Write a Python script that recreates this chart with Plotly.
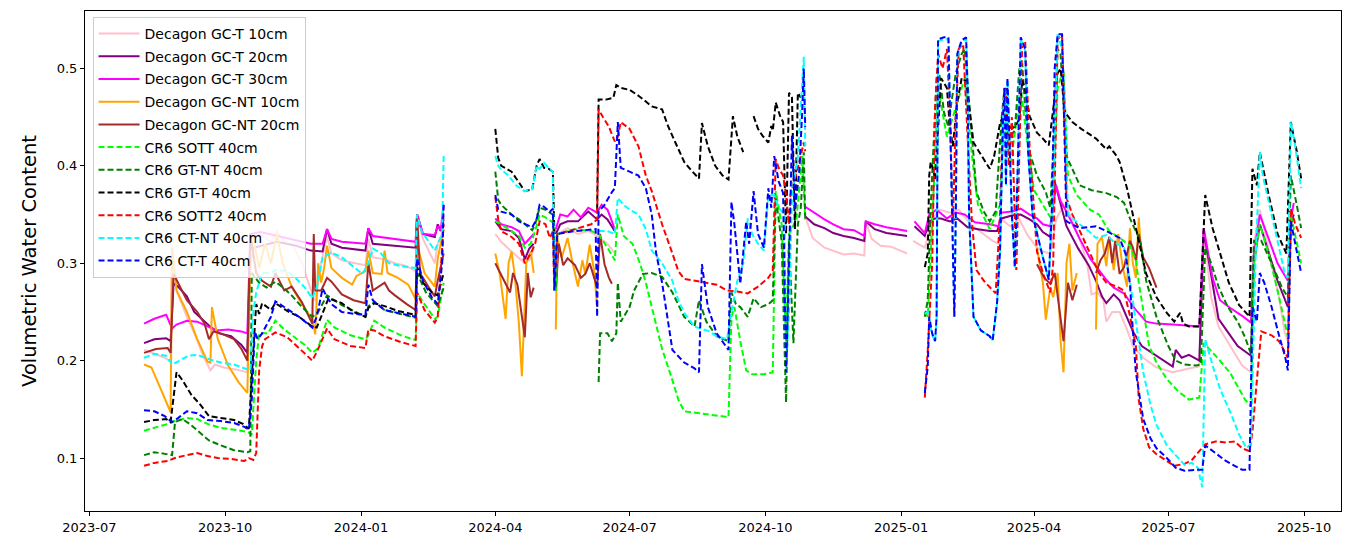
import plotly.graph_objects as go

# ---------------- data (date, volumetric water content); None = gap ----------------
gct_10 = [
    ("2023-08-07", 0.211), ("2023-08-14", 0.207), ("2023-08-21", 0.203), ("2023-08-25", 0.199),
    ("2023-08-26", 0.316), ("2023-08-29", 0.272), ("2023-09-05", 0.245), ("2023-09-11", 0.225),
    ("2023-09-16", 0.205), ("2023-09-21", 0.190), ("2023-09-24", 0.196), ("2023-09-30", 0.193),
    ("2023-10-08", 0.191), ("2023-10-16", 0.188),
    ("2023-10-18", 0.325), ("2023-10-24", 0.330), ("2023-11-01", 0.322), ("2023-11-05", 0.333),
    ("2023-11-10", 0.322), ("2023-11-16", 0.318), ("2023-11-22", 0.300), ("2023-11-29", 0.268),
    ("2023-12-01", 0.262), ("2023-12-05", 0.300), ("2023-12-09", 0.328), ("2023-12-12", 0.310),
    ("2023-12-19", 0.303), ("2023-12-28", 0.300), ("2024-01-04", 0.298), ("2024-01-06", 0.325),
    ("2024-01-09", 0.306), ("2024-01-17", 0.304), ("2024-01-24", 0.300), ("2024-02-01", 0.297),
    ("2024-02-07", 0.292), ("2024-02-08", 0.350), ("2024-02-12", 0.325), ("2024-02-20", 0.300),
    ("2024-02-22", 0.320), ("2024-02-26", 0.335), ("2024-03-15", None),
    ("2024-04-01", 0.330), ("2024-04-05", 0.322), ("2024-04-12", 0.312), ("2024-04-21", 0.300),
    ("2024-04-25", 0.305), ("2024-04-27", 0.315), ("2024-05-05", None),
    ("2024-05-12", 0.305), ("2024-05-13", 0.330), ("2024-05-20", 0.336), ("2024-05-27", 0.330),
    ("2024-06-03", 0.333), ("2024-06-09", 0.328), ("2024-06-16", 0.320), ("2024-06-21", 0.310),
    ("2024-08-01", None),
    ("2024-10-28", 0.348), ("2024-11-02", 0.326), ("2024-11-10", 0.316), ("2024-11-16", 0.313),
    ("2024-11-23", 0.309), ("2024-11-30", 0.310), ("2024-12-07", 0.308), ("2024-12-08", 0.343),
    ("2024-12-12", 0.325), ("2024-12-18", 0.318), ("2024-12-25", 0.317), ("2025-01-05", 0.310),
    ("2025-01-07", None),
    ("2025-01-09", 0.323), ("2025-01-17", 0.316), ("2025-01-22", 0.345), ("2025-01-27", 0.355),
    ("2025-02-03", 0.352), ("2025-02-09", 0.355), ("2025-02-17", 0.340), ("2025-02-24", 0.332),
    ("2025-03-04", 0.323), ("2025-03-08", 0.320), ("2025-03-10", 0.345), ("2025-03-16", 0.338),
    ("2025-03-22", 0.345), ("2025-03-28", 0.328), ("2025-04-03", 0.316), ("2025-04-07", 0.312),
    ("2025-04-12", 0.310), ("2025-04-16", 0.345), ("2025-04-21", 0.360), ("2025-04-24", 0.355),
    ("2025-04-28", 0.340), ("2025-05-03", 0.320), ("2025-05-07", 0.300), ("2025-05-10", 0.268),
    ("2025-05-14", 0.270), ("2025-05-18", 0.262), ("2025-05-20", 0.240), ("2025-05-24", 0.250),
    ("2025-05-29", 0.250), ("2025-06-03", 0.232), ("2025-06-07", 0.215), ("2025-06-14", 0.203),
    ("2025-06-23", 0.193), ("2025-07-04", 0.188), ("2025-07-15", 0.192), ("2025-07-22", 0.194),
    ("2025-07-25", 0.334), ("2025-07-30", 0.265), ("2025-08-04", 0.235), ("2025-08-12", 0.215),
    ("2025-08-20", 0.195), ("2025-08-26", 0.188), ("2025-08-28", 0.320), ("2025-09-01", 0.355),
    ("2025-09-09", 0.300), ("2025-09-14", 0.265), ("2025-09-18", 0.228), ("2025-09-20", 0.220),
    ("2025-09-22", 0.330), ("2025-09-23", 0.345),
]

gct_20 = [
    ("2023-08-07", 0.218), ("2023-08-14", 0.222), ("2023-08-22", 0.223), ("2023-08-25", 0.220),
    ("2023-08-27", 0.279), ("2023-08-30", 0.276), ("2023-09-05", 0.266), ("2023-09-10", 0.250),
    ("2023-09-15", 0.243), ("2023-09-20", 0.236), ("2023-09-27", 0.228), ("2023-10-05", 0.225),
    ("2023-10-12", 0.216), ("2023-10-16", 0.208),
    ("2023-10-18", 0.315), ("2023-10-25", 0.318), ("2023-11-05", 0.322), ("2023-11-18", 0.318),
    ("2023-11-28", 0.313), ("2023-12-06", 0.312), ("2023-12-09", 0.335), ("2023-12-12", 0.320),
    ("2023-12-19", 0.316), ("2024-01-04", 0.313), ("2024-01-06", 0.336), ("2024-01-09", 0.320),
    ("2024-01-17", 0.319), ("2024-01-24", 0.318), ("2024-02-07", 0.316), ("2024-02-08", 0.350),
    ("2024-02-12", 0.330), ("2024-02-20", 0.327), ("2024-02-22", 0.340), ("2024-02-24", 0.333),
    ("2024-02-26", 0.345), ("2024-03-15", None),
    ("2024-04-01", 0.343), ("2024-04-05", 0.335), ("2024-04-12", 0.333), ("2024-04-17", 0.326),
    ("2024-04-21", 0.304), ("2024-04-24", 0.315), ("2024-04-27", 0.320), ("2024-05-05", None),
    ("2024-05-12", 0.330), ("2024-05-15", 0.340), ("2024-05-20", 0.343), ("2024-05-27", 0.343),
    ("2024-06-03", 0.353), ("2024-06-09", 0.345), ("2024-06-12", 0.350), ("2024-06-16", 0.345),
    ("2024-06-21", 0.333), ("2024-08-01", None),
    ("2024-10-28", 0.348), ("2024-11-03", 0.340), ("2024-11-10", 0.336), ("2024-11-16", 0.331),
    ("2024-11-23", 0.328), ("2024-11-30", 0.326), ("2024-12-07", 0.323), ("2024-12-08", 0.343),
    ("2024-12-14", 0.335), ("2024-12-22", 0.331), ("2025-01-05", 0.328), ("2025-01-07", None),
    ("2025-01-10", 0.338), ("2025-01-17", 0.328), ("2025-01-20", 0.343), ("2025-01-24", 0.346),
    ("2025-01-28", 0.346), ("2025-02-03", 0.343), ("2025-02-08", 0.346), ("2025-02-15", 0.337),
    ("2025-02-22", 0.335), ("2025-03-02", 0.333), ("2025-03-07", 0.333), ("2025-03-10", 0.346),
    ("2025-03-17", 0.349), ("2025-03-23", 0.350), ("2025-03-29", 0.345), ("2025-04-03", 0.340),
    ("2025-04-07", 0.332), ("2025-04-12", 0.327), ("2025-04-15", 0.384), ("2025-04-19", 0.362),
    ("2025-04-23", 0.338), ("2025-05-01", 0.315), ("2025-05-08", 0.298), ("2025-05-13", 0.282),
    ("2025-05-17", 0.266), ("2025-05-20", 0.259), ("2025-05-25", 0.268), ("2025-05-29", 0.262),
    ("2025-06-03", 0.245), ("2025-06-07", 0.230), ("2025-06-13", 0.215), ("2025-06-23", 0.205),
    ("2025-07-04", 0.194), ("2025-07-06", 0.211), ("2025-07-10", 0.203), ("2025-07-15", 0.206),
    ("2025-07-22", 0.200), ("2025-07-25", 0.333), ("2025-07-30", 0.290), ("2025-08-04", 0.243),
    ("2025-08-10", 0.230), ("2025-08-17", 0.215), ("2025-08-26", 0.205), ("2025-08-28", 0.300),
    ("2025-09-01", 0.340), ("2025-09-07", 0.310), ("2025-09-13", 0.282), ("2025-09-20", 0.255),
    ("2025-09-22", 0.340), ("2025-09-24", 0.350),
]

gct_30 = [
    ("2023-08-07", 0.238), ("2023-08-14", 0.243), ("2023-08-22", 0.247), ("2023-08-26", 0.233),
    ("2023-08-29", 0.237), ("2023-09-05", 0.241), ("2023-09-12", 0.240), ("2023-09-18", 0.236),
    ("2023-09-25", 0.231), ("2023-10-03", 0.232), ("2023-10-12", 0.230), ("2023-10-16", 0.228),
    ("2023-10-18", 0.330), ("2023-10-25", 0.332), ("2023-11-08", 0.327), ("2023-11-20", 0.323),
    ("2023-11-28", 0.320), ("2023-12-06", 0.320), ("2023-12-09", 0.335), ("2023-12-12", 0.325),
    ("2023-12-19", 0.322), ("2024-01-04", 0.320), ("2024-01-06", 0.336), ("2024-01-09", 0.328),
    ("2024-01-24", 0.325), ("2024-02-07", 0.322), ("2024-02-08", 0.350), ("2024-02-12", 0.330),
    ("2024-02-20", 0.329), ("2024-02-22", 0.338), ("2024-02-24", 0.334), ("2024-02-26", 0.360),
    ("2024-03-15", None),
    ("2024-04-01", 0.346), ("2024-04-05", 0.340), ("2024-04-12", 0.337), ("2024-04-17", 0.333),
    ("2024-04-21", 0.320), ("2024-04-24", 0.325), ("2024-04-27", 0.330), ("2024-05-05", None),
    ("2024-05-12", 0.335), ("2024-05-15", 0.350), ("2024-05-20", 0.348), ("2024-05-24", 0.355),
    ("2024-05-29", 0.347), ("2024-06-03", 0.357), ("2024-06-09", 0.352), ("2024-06-12", 0.360),
    ("2024-06-16", 0.355), ("2024-06-21", 0.335), ("2024-08-01", None),
    ("2024-10-28", 0.358), ("2024-11-03", 0.352), ("2024-11-10", 0.345), ("2024-11-16", 0.340),
    ("2024-11-23", 0.335), ("2024-11-30", 0.334), ("2024-12-07", 0.328), ("2024-12-08", 0.343),
    ("2024-12-14", 0.340), ("2024-12-22", 0.337), ("2025-01-05", 0.333), ("2025-01-07", None),
    ("2025-01-10", 0.343), ("2025-01-17", 0.331), ("2025-01-20", 0.350), ("2025-01-25", 0.355),
    ("2025-02-01", 0.346), ("2025-02-07", 0.352), ("2025-02-13", 0.350), ("2025-02-20", 0.342),
    ("2025-03-02", 0.340), ("2025-03-08", 0.338), ("2025-03-10", 0.352), ("2025-03-17", 0.353),
    ("2025-03-23", 0.356), ("2025-03-29", 0.350), ("2025-04-03", 0.346), ("2025-04-07", 0.340),
    ("2025-04-12", 0.338), ("2025-04-16", 0.380), ("2025-04-19", 0.364), ("2025-04-24", 0.350),
    ("2025-05-02", 0.325), ("2025-05-09", 0.305), ("2025-05-20", 0.283), ("2025-05-25", 0.275),
    ("2025-06-01", 0.269), ("2025-06-09", 0.252), ("2025-06-16", 0.240), ("2025-06-23", 0.238),
    ("2025-07-04", 0.237), ("2025-07-14", 0.236), ("2025-07-22", 0.235), ("2025-07-25", 0.336),
    ("2025-07-31", 0.285), ("2025-08-05", 0.262), ("2025-08-12", 0.254), ("2025-08-20", 0.246),
    ("2025-08-26", 0.239), ("2025-08-28", 0.310), ("2025-09-01", 0.350), ("2025-09-07", 0.325),
    ("2025-09-13", 0.300), ("2025-09-20", 0.282), ("2025-09-22", 0.345), ("2025-09-24", 0.362),
]

gcnt_10 = [
    ("2023-08-07", 0.196), ("2023-08-12", 0.193), ("2023-08-18", 0.172), ("2023-08-25", 0.147),
    ("2023-08-26", 0.316), ("2023-08-29", 0.272), ("2023-09-05", 0.250), ("2023-09-12", 0.222),
    ("2023-09-19", 0.199), ("2023-09-21", 0.198), ("2023-09-22", 0.255), ("2023-09-26", 0.222),
    ("2023-10-03", 0.195), ("2023-10-10", 0.178), ("2023-10-16", 0.167),
    ("2023-10-18", 0.300), ("2023-10-21", 0.318), ("2023-10-24", 0.295), ("2023-10-28", 0.320),
    ("2023-11-01", 0.300), ("2023-11-05", 0.330), ("2023-11-09", 0.300), ("2023-11-15", 0.276),
    ("2023-11-22", 0.258), ("2023-11-29", 0.242), ("2023-12-01", 0.227), ("2023-12-03", 0.300),
    ("2023-12-05", 0.280), ("2023-12-07", 0.295), ("2023-12-09", 0.318), ("2023-12-12", 0.295),
    ("2023-12-19", 0.285), ("2023-12-26", 0.278), ("2023-12-29", 0.287), ("2024-01-04", 0.292),
    ("2024-01-06", 0.313), ("2024-01-09", 0.290), ("2024-01-15", 0.289), ("2024-01-17", 0.313),
    ("2024-01-19", 0.290), ("2024-01-26", 0.285), ("2024-02-02", 0.278), ("2024-02-07", 0.263),
    ("2024-02-08", 0.320), ("2024-02-13", 0.290), ("2024-02-20", 0.276), ("2024-02-22", 0.305),
    ("2024-02-26", 0.335), ("2024-03-15", None),
    ("2024-04-01", 0.310), ("2024-04-04", 0.289), ("2024-04-08", 0.243), ("2024-04-10", 0.300),
    ("2024-04-12", 0.312), ("2024-04-14", 0.290), ("2024-04-17", 0.238), ("2024-04-19", 0.184),
    ("2024-04-22", 0.300), ("2024-04-25", 0.312), ("2024-04-27", 0.290), ("2024-05-05", None),
    ("2024-05-12", 0.232), ("2024-05-13", 0.326), ("2024-05-16", 0.306), ("2024-05-20", 0.326),
    ("2024-05-23", 0.303), ("2024-05-27", 0.276), ("2024-05-30", 0.303), ("2024-06-01", 0.289),
    ("2024-06-04", 0.319), ("2024-06-07", 0.292), ("2024-06-09", 0.255), ("2024-08-01", None),
    ("2025-04-03", 0.316), ("2025-04-07", 0.280), ("2025-04-09", 0.242), ("2025-04-12", 0.275),
    ("2025-04-14", 0.265), ("2025-04-17", 0.290), ("2025-04-19", 0.220), ("2025-04-21", 0.188),
    ("2025-04-23", 0.300), ("2025-04-25", 0.320), ("2025-04-27", 0.272), ("2025-04-30", 0.290),
    ("2025-05-06", None),
    ("2025-05-13", 0.232), ("2025-05-14", 0.320), ("2025-05-17", 0.327), ("2025-05-20", 0.297),
    ("2025-05-22", 0.327), ("2025-05-25", 0.293), ("2025-05-28", 0.330), ("2025-05-31", 0.297),
    ("2025-06-03", 0.276), ("2025-06-05", 0.336), ("2025-06-07", 0.300), ("2025-06-09", 0.285),
    ("2025-06-11", 0.347), ("2025-06-12", 0.323),
]

gcnt_20 = [
    ("2023-08-07", 0.208), ("2023-08-15", 0.212), ("2023-08-23", 0.213), ("2023-08-25", 0.208),
    ("2023-08-27", 0.289), ("2023-08-30", 0.280), ("2023-09-05", 0.262), ("2023-09-12", 0.250),
    ("2023-09-17", 0.238), ("2023-09-20", 0.222), ("2023-09-23", 0.230), ("2023-09-28", 0.228),
    ("2023-10-07", 0.222), ("2023-10-12", 0.212), ("2023-10-16", 0.200),
    ("2023-10-18", 0.330), ("2023-10-22", 0.290), ("2023-10-26", 0.282), ("2023-11-01", 0.276),
    ("2023-11-04", 0.290), ("2023-11-10", 0.272), ("2023-11-15", 0.276), ("2023-11-22", 0.260),
    ("2023-11-29", 0.238), ("2023-11-30", 0.330), ("2023-12-01", 0.272), ("2023-12-05", 0.272),
    ("2023-12-09", 0.285), ("2023-12-12", 0.281), ("2023-12-19", 0.268), ("2023-12-27", 0.262),
    ("2024-01-04", 0.259), ("2024-01-06", 0.300), ("2024-01-09", 0.272), ("2024-01-17", 0.280),
    ("2024-01-20", 0.272), ("2024-01-24", 0.267), ("2024-02-01", 0.258), ("2024-02-07", 0.252),
    ("2024-02-08", 0.350), ("2024-02-10", 0.290), ("2024-02-16", 0.275), ("2024-02-20", 0.266),
    ("2024-02-22", 0.282), ("2024-02-26", 0.310), ("2024-03-15", None),
    ("2024-04-01", 0.300), ("2024-04-06", 0.285), ("2024-04-11", 0.270), ("2024-04-13", 0.290),
    ("2024-04-16", 0.278), ("2024-04-21", 0.224), ("2024-04-23", 0.290), ("2024-04-25", 0.265),
    ("2024-04-27", 0.275), ("2024-05-05", None),
    ("2024-05-12", 0.272), ("2024-05-14", 0.320), ("2024-05-17", 0.298), ("2024-05-20", 0.305),
    ("2024-05-25", 0.298), ("2024-05-29", 0.285), ("2024-06-01", 0.289), ("2024-06-04", 0.300),
    ("2024-06-07", 0.285), ("2024-06-09", 0.275), ("2024-06-11", 0.330), ("2024-06-14", 0.299),
    ("2024-06-17", 0.285), ("2024-06-19", 0.279), ("2024-08-01", None),
    ("2025-04-03", 0.299), ("2025-04-08", 0.285), ("2025-04-12", 0.279), ("2025-04-15", 0.290),
    ("2025-04-21", 0.220), ("2025-04-24", 0.280), ("2025-04-27", 0.262), ("2025-04-30", 0.278),
    ("2025-05-06", None),
    ("2025-05-13", 0.290), ("2025-05-16", 0.303), ("2025-05-19", 0.310), ("2025-05-22", 0.327),
    ("2025-05-24", 0.300), ("2025-05-26", 0.323), ("2025-05-29", 0.289), ("2025-06-01", 0.296),
    ("2025-06-05", 0.323), ("2025-06-07", 0.316), ("2025-06-09", 0.303), ("2025-06-11", 0.330),
    ("2025-06-14", 0.306), ("2025-06-18", 0.295), ("2025-06-23", 0.275),
]

sott = [
    ("2023-08-07", 0.128), ("2023-08-14", 0.131), ("2023-08-23", 0.135), ("2023-08-28", 0.138),
    ("2023-09-05", 0.141), ("2023-09-12", 0.140), ("2023-09-19", 0.135), ("2023-09-28", 0.131),
    ("2023-10-07", 0.129), ("2023-10-16", 0.127), ("2023-10-19", 0.124), ("2023-10-22", 0.200),
    ("2023-10-24", 0.228), ("2023-10-30", 0.228), ("2023-11-04", 0.241), ("2023-11-10", 0.232),
    ("2023-11-17", 0.224), ("2023-11-24", 0.216), ("2023-11-29", 0.208), ("2023-12-03", 0.213),
    ("2023-12-09", 0.242), ("2023-12-14", 0.234), ("2023-12-25", 0.226), ("2024-01-04", 0.222),
    ("2024-01-06", 0.226), ("2024-01-10", 0.241), ("2024-01-17", 0.234), ("2024-01-28", 0.226),
    ("2024-02-07", 0.221), ("2024-02-08", 0.270), ("2024-02-13", 0.258), ("2024-02-20", 0.243),
    ("2024-02-22", 0.245), ("2024-02-26", 0.280), ("2024-03-15", None),
    ("2024-04-01", 0.343), ("2024-04-05", 0.340), ("2024-04-12", 0.333), ("2024-04-17", 0.328),
    ("2024-04-21", 0.316), ("2024-04-25", 0.320), ("2024-04-28", 0.333), ("2024-05-01", 0.350),
    ("2024-05-05", 0.347), ("2024-05-09", 0.343), ("2024-05-11", 0.340), ("2024-05-12", 0.272),
    ("2024-05-13", 0.330), ("2024-05-25", 0.335), ("2024-06-05", 0.333), ("2024-06-10", 0.330),
    ("2024-06-16", 0.316), ("2024-06-21", 0.303), ("2024-06-23", 0.350), ("2024-06-27", 0.328),
    ("2024-07-03", 0.320), ("2024-07-08", 0.300), ("2024-07-12", 0.280), ("2024-07-16", 0.256),
    ("2024-07-23", 0.212), ("2024-07-30", 0.180), ("2024-08-03", 0.160), ("2024-08-07", 0.148),
    ("2024-08-18", 0.146), ("2024-08-29", 0.144), ("2024-09-06", 0.142), ("2024-09-08", 0.245),
    ("2024-09-10", 0.255), ("2024-09-14", 0.220), ("2024-09-18", 0.190), ("2024-09-22", 0.186),
    ("2024-09-30", 0.186), ("2024-10-06", 0.188), ("2024-10-08", 0.374), ("2024-10-12", 0.340),
    ("2024-10-15", 0.220), ("2024-10-17", 0.330), ("2024-10-22", 0.345), ("2024-10-26", 0.410),
    ("2024-10-28", 0.345), ("2024-12-01", None),
    ("2025-01-17", 0.250), ("2025-01-19", 0.245), ("2025-01-22", 0.340), ("2025-01-26", 0.480),
    ("2025-02-01", 0.430), ("2025-02-07", 0.460), ("2025-02-13", 0.490), ("2025-02-18", 0.410),
    ("2025-02-22", 0.360), ("2025-03-02", 0.335), ("2025-03-09", 0.360), ("2025-03-12", 0.460),
    ("2025-03-16", 0.400), ("2025-03-23", 0.480), ("2025-03-27", 0.430), ("2025-04-01", 0.375),
    ("2025-04-09", 0.355), ("2025-04-13", 0.345), ("2025-04-17", 0.480), ("2025-04-21", 0.500),
    ("2025-04-24", 0.390), ("2025-04-30", 0.370), ("2025-05-09", 0.355), ("2025-05-15", 0.350),
    ("2025-05-22", 0.333), ("2025-05-29", 0.326), ("2025-06-05", 0.318), ("2025-06-09", 0.303),
    ("2025-06-11", 0.280), ("2025-06-18", 0.215), ("2025-06-23", 0.198), ("2025-06-30", 0.181),
    ("2025-07-08", 0.168), ("2025-07-15", 0.160), ("2025-07-22", 0.162), ("2025-07-25", 0.218),
    ("2025-07-30", 0.210), ("2025-08-05", 0.200), ("2025-08-12", 0.187), ("2025-08-17", 0.174),
    ("2025-08-22", 0.160), ("2025-08-26", 0.153), ("2025-08-28", 0.300), ("2025-09-01", 0.340),
    ("2025-09-07", 0.310), ("2025-09-13", 0.272), ("2025-09-20", 0.225), ("2025-09-22", 0.350),
    ("2025-09-26", 0.320), ("2025-09-29", 0.300),
]

gt_nt = [
    ("2023-08-07", 0.103), ("2023-08-14", 0.106), ("2023-08-22", 0.104), ("2023-08-26", 0.103),
    ("2023-08-28", 0.137), ("2023-09-02", 0.140), ("2023-09-07", 0.135), ("2023-09-14", 0.126),
    ("2023-09-20", 0.118), ("2023-09-28", 0.113), ("2023-10-07", 0.108), ("2023-10-16", 0.106),
    ("2023-10-18", 0.107), ("2023-10-19", 0.290), ("2023-10-24", 0.280), ("2023-10-29", 0.275),
    ("2023-11-04", 0.281), ("2023-11-10", 0.274), ("2023-11-15", 0.267), ("2023-11-22", 0.255),
    ("2023-11-29", 0.245), ("2023-12-03", 0.250), ("2023-12-09", 0.267), ("2023-12-19", 0.257),
    ("2023-12-27", 0.251), ("2024-01-04", 0.245), ("2024-01-06", 0.256), ("2024-01-10", 0.260),
    ("2024-01-17", 0.252), ("2024-01-28", 0.248), ("2024-02-07", 0.244), ("2024-02-08", 0.290),
    ("2024-02-14", 0.270), ("2024-02-22", 0.256), ("2024-02-26", 0.275), ("2024-03-15", None),
    ("2024-04-01", 0.394), ("2024-04-03", 0.365), ("2024-04-05", 0.360), ("2024-04-12", 0.350),
    ("2024-04-17", 0.345), ("2024-04-21", 0.340), ("2024-04-26", 0.334), ("2024-04-28", 0.340),
    ("2024-05-01", 0.357), ("2024-05-05", 0.355), ("2024-05-10", 0.350), ("2024-05-12", 0.272),
    ("2024-05-25", None),
    ("2024-06-10", 0.178), ("2024-06-11", 0.228), ("2024-06-16", 0.228), ("2024-06-19", 0.220),
    ("2024-06-22", 0.228), ("2024-06-23", 0.280), ("2024-06-25", 0.240), ("2024-06-27", 0.245),
    ("2024-07-01", 0.255), ("2024-07-04", 0.272), ("2024-07-10", 0.289), ("2024-07-16", 0.290),
    ("2024-07-23", 0.286), ("2024-07-30", 0.270), ("2024-08-07", 0.245), ("2024-08-14", 0.235),
    ("2024-08-17", 0.262), ("2024-08-22", 0.240), ("2024-08-29", 0.225), ("2024-09-06", 0.220),
    ("2024-09-08", 0.270), ("2024-09-11", 0.258), ("2024-09-14", 0.255), ("2024-09-19", 0.245),
    ("2024-09-23", 0.264), ("2024-09-28", 0.255), ("2024-10-03", 0.258), ("2024-10-06", 0.262),
    ("2024-10-08", 0.367), ("2024-10-12", 0.323), ("2024-10-15", 0.157), ("2024-10-17", 0.323),
    ("2024-10-20", 0.218), ("2024-10-23", 0.340), ("2024-10-25", 0.357), ("2024-10-27", 0.414),
    ("2024-10-28", 0.345), ("2024-12-01", None),
    ("2025-01-17", 0.245), ("2025-01-19", 0.262), ("2025-01-21", 0.357), ("2025-01-25", 0.490),
    ("2025-01-27", 0.493), ("2025-01-30", 0.455), ("2025-02-02", 0.440), ("2025-02-04", 0.465),
    ("2025-02-07", 0.495), ("2025-02-11", 0.515), ("2025-02-13", 0.520), ("2025-02-15", 0.480),
    ("2025-02-18", 0.430), ("2025-02-21", 0.373), ("2025-02-26", 0.353), ("2025-03-02", 0.343),
    ("2025-03-06", 0.353), ("2025-03-10", 0.448), ("2025-03-12", 0.480), ("2025-03-15", 0.430),
    ("2025-03-19", 0.436), ("2025-03-22", 0.499), ("2025-03-24", 0.505), ("2025-03-26", 0.460),
    ("2025-03-29", 0.414), ("2025-04-03", 0.390), ("2025-04-09", 0.373), ("2025-04-12", 0.357),
    ("2025-04-14", 0.414), ("2025-04-17", 0.520), ("2025-04-19", 0.515), ("2025-04-23", 0.410),
    ("2025-05-02", 0.380), ("2025-05-10", 0.375), ("2025-05-20", 0.372), ("2025-05-27", 0.368),
    ("2025-06-01", 0.362), ("2025-06-05", 0.346), ("2025-06-12", 0.323), ("2025-06-16", 0.282),
    ("2025-06-23", 0.245), ("2025-07-01", 0.215), ("2025-07-06", 0.200), ("2025-07-12", 0.196),
    ("2025-07-20", 0.195), ("2025-07-23", 0.196), ("2025-07-26", 0.316), ("2025-07-30", 0.300),
    ("2025-08-04", 0.276), ("2025-08-10", 0.256), ("2025-08-17", 0.240), ("2025-08-22", 0.224),
    ("2025-08-26", 0.207), ("2025-08-28", 0.323), ("2025-09-02", 0.323), ("2025-09-09", 0.300),
    ("2025-09-16", 0.275), ("2025-09-20", 0.265), ("2025-09-22", 0.390), ("2025-09-26", 0.360),
    ("2025-09-29", 0.336),
]

gt_t = [
    ("2023-08-07", 0.137), ("2023-08-14", 0.139), ("2023-08-22", 0.140), ("2023-08-25", 0.137),
    ("2023-08-29", 0.188), ("2023-09-02", 0.180), ("2023-09-08", 0.165), ("2023-09-14", 0.155),
    ("2023-09-20", 0.143), ("2023-09-28", 0.141), ("2023-10-07", 0.139), ("2023-10-13", 0.135),
    ("2023-10-17", 0.130), ("2023-10-20", 0.210), ("2023-10-22", 0.258), ("2023-10-24", 0.248),
    ("2023-10-26", 0.259), ("2023-11-01", 0.252), ("2023-11-04", 0.259), ("2023-11-12", 0.251),
    ("2023-11-20", 0.245), ("2023-11-29", 0.235), ("2023-12-02", 0.234), ("2023-12-05", 0.245),
    ("2023-12-10", 0.264), ("2023-12-19", 0.259), ("2023-12-27", 0.250), ("2024-01-04", 0.245),
    ("2024-01-06", 0.254), ("2024-01-10", 0.259), ("2024-01-17", 0.256), ("2024-01-26", 0.251),
    ("2024-02-07", 0.247), ("2024-02-08", 0.296), ("2024-02-12", 0.280), ("2024-02-18", 0.270),
    ("2024-02-22", 0.267), ("2024-02-26", 0.290), ("2024-03-15", None),
    ("2024-04-01", 0.438), ("2024-04-03", 0.408), ("2024-04-05", 0.400), ("2024-04-12", 0.394),
    ("2024-04-17", 0.383), ("2024-04-21", 0.374), ("2024-04-26", 0.376), ("2024-04-29", 0.400),
    ("2024-05-01", 0.407), ("2024-05-04", 0.398), ("2024-05-07", 0.397), ("2024-05-10", 0.394),
    ("2024-05-11", 0.330), ("2024-05-25", None),
    ("2024-06-09", 0.355), ("2024-06-10", 0.468), ("2024-06-15", 0.468), ("2024-06-20", 0.470),
    ("2024-06-22", 0.483), ("2024-06-25", 0.480), ("2024-07-01", 0.478), ("2024-07-07", 0.472),
    ("2024-07-12", 0.466), ("2024-07-16", 0.461), ("2024-07-23", 0.458), ("2024-07-27", 0.441),
    ("2024-08-01", 0.424), ("2024-08-07", 0.404), ("2024-08-12", 0.395), ("2024-08-17", 0.387),
    ("2024-08-19", 0.444), ("2024-08-23", 0.420), ("2024-08-28", 0.400), ("2024-09-02", 0.390),
    ("2024-09-06", 0.386), ("2024-09-09", 0.451), ("2024-09-12", 0.430), ("2024-09-16", 0.414),
    ("2024-09-19", None),
    ("2024-09-23", 0.451), ("2024-09-26", 0.438), ("2024-09-29", 0.431), ("2024-10-03", 0.424),
    ("2024-10-05", 0.441), ("2024-10-06", 0.436), ("2024-10-08", 0.465), ("2024-10-11", 0.451),
    ("2024-10-13", 0.445), ("2024-10-15", 0.330), ("2024-10-17", 0.475), ("2024-10-19", 0.470),
    ("2024-10-21", 0.335), ("2024-10-23", 0.475), ("2024-10-25", 0.470), ("2024-12-01", None),
    ("2025-01-17", 0.296), ("2025-01-19", 0.310), ("2025-01-20", 0.390), ("2025-01-21", 0.404),
    ("2025-01-23", 0.395), ("2025-01-24", 0.385), ("2025-01-28", 0.490), ("2025-02-01", 0.480),
    ("2025-02-03", 0.440), ("2025-02-05", 0.420), ("2025-02-08", 0.465), ("2025-02-11", 0.490),
    ("2025-02-14", 0.487), ("2025-02-17", 0.448), ("2025-02-19", 0.424), ("2025-02-23", 0.414),
    ("2025-02-27", 0.404), ("2025-03-02", 0.397), ("2025-03-05", 0.410), ("2025-03-09", 0.444),
    ("2025-03-11", 0.451), ("2025-03-14", 0.444), ("2025-03-17", 0.438), ("2025-03-20", 0.442),
    ("2025-03-22", 0.448), ("2025-03-24", 0.488), ("2025-03-26", 0.478), ("2025-03-29", 0.451),
    ("2025-04-03", 0.434), ("2025-04-07", 0.428), ("2025-04-11", 0.421), ("2025-04-14", 0.458),
    ("2025-04-17", 0.495), ("2025-04-19", 0.500), ("2025-04-22", 0.455), ("2025-04-27", 0.445),
    ("2025-05-03", 0.438), ("2025-05-13", 0.428), ("2025-05-20", 0.417), ("2025-05-22", 0.420),
    ("2025-05-27", 0.410), ("2025-05-29", 0.404), ("2025-06-03", 0.377), ("2025-06-08", 0.343),
    ("2025-06-12", 0.316), ("2025-06-16", 0.289), ("2025-06-23", 0.265), ("2025-06-30", 0.249),
    ("2025-07-05", 0.240), ("2025-07-09", 0.249), ("2025-07-11", 0.238), ("2025-07-15", 0.235),
    ("2025-07-22", 0.235), ("2025-07-26", 0.370), ("2025-07-31", 0.336), ("2025-08-05", 0.310),
    ("2025-08-11", 0.280), ("2025-08-18", 0.257), ("2025-08-25", 0.245), ("2025-08-27", 0.397),
    ("2025-08-30", 0.380), ("2025-09-01", 0.414), ("2025-09-07", 0.370), ("2025-09-13", 0.330),
    ("2025-09-19", 0.310), ("2025-09-22", 0.445), ("2025-09-26", 0.415), ("2025-09-29", 0.387),
]

sott2 = [
    ("2023-08-07", 0.092), ("2023-08-14", 0.095), ("2023-08-23", 0.097), ("2023-08-28", 0.100),
    ("2023-09-05", 0.103), ("2023-09-12", 0.105), ("2023-09-19", 0.102), ("2023-09-26", 0.100),
    ("2023-10-05", 0.099), ("2023-10-14", 0.097), ("2023-10-17", 0.100), ("2023-10-20", 0.098),
    ("2023-10-22", 0.105), ("2023-10-24", 0.190), ("2023-10-26", 0.215), ("2023-10-28", 0.222),
    ("2023-11-04", 0.229), ("2023-11-12", 0.224), ("2023-11-22", 0.210), ("2023-11-29", 0.200),
    ("2023-12-03", 0.212), ("2023-12-09", 0.233), ("2023-12-14", 0.222), ("2023-12-25", 0.215),
    ("2024-01-04", 0.213), ("2024-01-06", 0.232), ("2024-01-10", 0.231), ("2024-01-17", 0.225),
    ("2024-01-28", 0.219), ("2024-02-07", 0.215), ("2024-02-08", 0.270), ("2024-02-13", 0.252),
    ("2024-02-20", 0.239), ("2024-02-22", 0.245), ("2024-02-26", 0.340), ("2024-03-15", None),
    ("2024-04-01", 0.368), ("2024-04-03", 0.345), ("2024-04-05", 0.333), ("2024-04-12", 0.327),
    ("2024-04-17", 0.320), ("2024-04-21", 0.300), ("2024-04-25", 0.310), ("2024-04-28", 0.320),
    ("2024-05-01", 0.343), ("2024-05-05", 0.340), ("2024-05-08", 0.326), ("2024-05-10", 0.333),
    ("2024-05-11", 0.272), ("2024-05-13", 0.330), ("2024-05-25", 0.335), ("2024-06-05", 0.340),
    ("2024-06-09", 0.345), ("2024-06-10", 0.458), ("2024-06-13", 0.450), ("2024-06-17", 0.440),
    ("2024-06-21", 0.425), ("2024-06-23", 0.430), ("2024-06-25", 0.445), ("2024-07-01", 0.438),
    ("2024-07-07", 0.420), ("2024-07-12", 0.390), ("2024-07-16", 0.374), ("2024-07-23", 0.340),
    ("2024-07-30", 0.310), ("2024-08-03", 0.292), ("2024-08-07", 0.284), ("2024-08-14", 0.282),
    ("2024-08-20", 0.280), ("2024-08-29", 0.278), ("2024-09-05", 0.272), ("2024-09-12", 0.271),
    ("2024-09-19", 0.269), ("2024-09-26", 0.276), ("2024-10-03", 0.285), ("2024-10-06", 0.292),
    ("2024-10-08", 0.407), ("2024-10-10", 0.398), ("2024-10-13", 0.390), ("2024-10-15", 0.370),
    ("2024-10-17", 0.340), ("2024-10-18", 0.370), ("2024-10-24", 0.404), ("2024-10-27", 0.424),
    ("2024-10-28", 0.415), ("2024-12-01", None),
    ("2025-01-17", 0.162), ("2025-01-19", 0.210), ("2025-01-22", 0.300), ("2025-01-24", 0.460),
    ("2025-01-26", 0.515), ("2025-01-29", 0.500), ("2025-02-01", 0.520), ("2025-02-03", 0.455),
    ("2025-02-05", 0.340), ("2025-02-07", 0.450), ("2025-02-09", 0.520), ("2025-02-12", 0.525),
    ("2025-02-15", 0.430), ("2025-02-18", 0.340), ("2025-02-21", 0.293), ("2025-02-26", 0.282),
    ("2025-03-06", 0.269), ("2025-03-09", 0.350), ("2025-03-11", 0.458), ("2025-03-13", 0.480),
    ("2025-03-15", 0.400), ("2025-03-17", 0.450), ("2025-03-20", 0.293), ("2025-03-22", 0.420),
    ("2025-03-24", 0.525), ("2025-03-26", 0.528), ("2025-03-29", 0.420), ("2025-04-03", 0.312),
    ("2025-04-07", 0.290), ("2025-04-12", 0.270), ("2025-04-14", 0.300), ("2025-04-17", 0.530),
    ("2025-04-20", 0.535), ("2025-04-22", 0.430), ("2025-04-23", 0.367), ("2025-04-27", 0.350),
    ("2025-05-03", 0.330), ("2025-05-10", 0.305), ("2025-05-15", 0.290), ("2025-05-20", 0.280),
    ("2025-05-27", 0.276), ("2025-06-01", 0.272), ("2025-06-05", 0.246), ("2025-06-09", 0.215),
    ("2025-06-11", 0.160), ("2025-06-14", 0.130), ("2025-06-18", 0.111), ("2025-06-23", 0.104),
    ("2025-06-30", 0.097), ("2025-07-05", 0.092), ("2025-07-12", 0.094), ("2025-07-17", 0.098),
    ("2025-07-22", 0.107), ("2025-07-26", 0.114), ("2025-08-02", 0.117), ("2025-08-09", 0.116),
    ("2025-08-15", 0.117), ("2025-08-20", 0.110), ("2025-08-25", 0.107), ("2025-08-27", 0.127),
    ("2025-08-30", 0.180), ("2025-09-02", 0.230), ("2025-09-09", 0.226), ("2025-09-14", 0.220),
    ("2025-09-20", 0.203), ("2025-09-22", 0.356), ("2025-09-25", 0.340), ("2025-09-29", 0.326),
]

ct_nt = [
    ("2023-08-07", 0.203), ("2023-08-14", 0.207), ("2023-08-22", 0.205), ("2023-08-26", 0.196),
    ("2023-08-30", 0.199), ("2023-09-06", 0.205), ("2023-09-12", 0.206), ("2023-09-19", 0.202),
    ("2023-09-28", 0.198), ("2023-10-07", 0.196), ("2023-10-16", 0.191), ("2023-10-18", 0.190),
    ("2023-10-20", 0.250), ("2023-10-22", 0.270), ("2023-10-26", 0.290), ("2023-11-01", 0.290),
    ("2023-11-04", 0.293), ("2023-11-12", 0.292), ("2023-11-17", 0.286), ("2023-11-24", 0.275),
    ("2023-11-29", 0.264), ("2023-12-02", 0.275), ("2023-12-06", 0.306), ("2023-12-12", 0.311),
    ("2023-12-19", 0.306), ("2023-12-27", 0.296), ("2024-01-02", 0.289), ("2024-01-06", 0.300),
    ("2024-01-09", 0.315), ("2024-01-14", 0.311), ("2024-01-20", 0.300), ("2024-01-28", 0.297),
    ("2024-02-07", 0.295), ("2024-02-08", 0.350), ("2024-02-11", 0.333), ("2024-02-20", 0.313),
    ("2024-02-22", 0.320), ("2024-02-25", 0.330), ("2024-02-26", 0.411), ("2024-03-15", None),
    ("2024-04-01", 0.410), ("2024-04-03", 0.400), ("2024-04-05", 0.396), ("2024-04-10", 0.390),
    ("2024-04-15", 0.380), ("2024-04-21", 0.374), ("2024-04-26", 0.376), ("2024-04-29", 0.400),
    ("2024-05-01", 0.397), ("2024-05-04", 0.403), ("2024-05-07", 0.398), ("2024-05-10", 0.394),
    ("2024-05-11", 0.270), ("2024-05-25", None),
    ("2024-06-10", 0.333), ("2024-06-16", 0.333), ("2024-06-21", 0.330), ("2024-06-23", 0.367),
    ("2024-06-27", 0.360), ("2024-07-01", 0.355), ("2024-07-07", 0.350), ("2024-07-12", 0.335),
    ("2024-07-16", 0.313), ("2024-07-23", 0.300), ("2024-07-30", 0.282), ("2024-08-03", 0.262),
    ("2024-08-07", 0.249), ("2024-08-14", 0.235), ("2024-08-24", 0.230), ("2024-08-29", 0.225),
    ("2024-09-05", 0.222), ("2024-09-08", 0.250), ("2024-09-12", 0.282), ("2024-09-16", 0.300),
    ("2024-09-19", 0.346), ("2024-09-22", 0.330), ("2024-09-26", 0.320), ("2024-09-30", 0.313),
    ("2024-10-03", 0.370), ("2024-10-07", 0.370), ("2024-10-10", 0.357), ("2024-10-14", 0.350),
    ("2024-10-15", 0.188), ("2024-10-17", 0.250), ("2024-10-19", 0.370), ("2024-10-23", 0.410),
    ("2024-10-27", 0.512), ("2024-10-28", 0.420), ("2024-12-01", None),
    ("2025-01-17", 0.248), ("2025-01-19", 0.250), ("2025-01-20", 0.243), ("2025-01-22", 0.226),
    ("2025-01-24", 0.220), ("2025-01-25", 0.243), ("2025-01-26", 0.528), ("2025-01-30", 0.530),
    ("2025-02-02", 0.530), ("2025-02-04", 0.400), ("2025-02-06", 0.245), ("2025-02-07", 0.350),
    ("2025-02-08", 0.512), ("2025-02-11", 0.527), ("2025-02-14", 0.530), ("2025-02-15", 0.478),
    ("2025-02-16", 0.350), ("2025-02-19", 0.245), ("2025-02-24", 0.231), ("2025-03-02", 0.225),
    ("2025-03-04", 0.221), ("2025-03-07", 0.260), ("2025-03-09", 0.313), ("2025-03-11", 0.448),
    ("2025-03-12", 0.478), ("2025-03-13", 0.380), ("2025-03-14", 0.488), ("2025-03-17", 0.350),
    ("2025-03-19", 0.296), ("2025-03-21", 0.400), ("2025-03-23", 0.530), ("2025-03-26", 0.518),
    ("2025-03-28", 0.414), ("2025-03-31", 0.350), ("2025-04-03", 0.330), ("2025-04-07", 0.306),
    ("2025-04-11", 0.283), ("2025-04-14", 0.380), ("2025-04-17", 0.535), ("2025-04-20", 0.520),
    ("2025-04-22", 0.458), ("2025-04-24", 0.350), ("2025-05-02", 0.340), ("2025-05-08", 0.333),
    ("2025-05-13", 0.326), ("2025-05-20", 0.329), ("2025-05-25", 0.322), ("2025-06-01", 0.316),
    ("2025-06-05", 0.282), ("2025-06-09", 0.238), ("2025-06-14", 0.188), ("2025-06-19", 0.154),
    ("2025-06-23", 0.134), ("2025-06-30", 0.113), ("2025-07-06", 0.103), ("2025-07-12", 0.093),
    ("2025-07-17", 0.095), ("2025-07-21", 0.090), ("2025-07-24", 0.070), ("2025-07-26", 0.222),
    ("2025-07-31", 0.195), ("2025-08-05", 0.171), ("2025-08-12", 0.147), ("2025-08-18", 0.124),
    ("2025-08-23", 0.110), ("2025-08-26", 0.115), ("2025-08-29", 0.300), ("2025-09-01", 0.414),
    ("2025-09-03", 0.390), ("2025-09-07", 0.363), ("2025-09-13", 0.320), ("2025-09-18", 0.289),
    ("2025-09-20", 0.285), ("2025-09-22", 0.445), ("2025-09-25", 0.420), ("2025-09-29", 0.377),
]

ct_t = [
    ("2023-08-07", 0.149), ("2023-08-14", 0.148), ("2023-08-21", 0.143), ("2023-08-26", 0.137),
    ("2023-08-30", 0.141), ("2023-09-05", 0.148), ("2023-09-12", 0.146), ("2023-09-19", 0.139),
    ("2023-09-28", 0.138), ("2023-10-07", 0.136), ("2023-10-14", 0.132), ("2023-10-17", 0.129),
    ("2023-10-19", 0.160), ("2023-10-21", 0.230), ("2023-10-23", 0.222), ("2023-10-26", 0.228),
    ("2023-11-01", 0.245), ("2023-11-04", 0.261), ("2023-11-12", 0.253), ("2023-11-20", 0.245),
    ("2023-11-29", 0.234), ("2023-12-02", 0.245), ("2023-12-06", 0.274), ("2023-12-08", 0.268),
    ("2023-12-12", 0.258), ("2023-12-19", 0.250), ("2023-12-27", 0.248), ("2024-01-04", 0.247),
    ("2024-01-06", 0.278), ("2024-01-09", 0.262), ("2024-01-17", 0.252), ("2024-01-26", 0.249),
    ("2024-02-07", 0.245), ("2024-02-08", 0.305), ("2024-02-12", 0.282), ("2024-02-18", 0.265),
    ("2024-02-22", 0.258), ("2024-02-25", 0.300), ("2024-02-26", 0.360), ("2024-03-15", None),
    ("2024-04-01", 0.370), ("2024-04-03", 0.355), ("2024-04-05", 0.353), ("2024-04-12", 0.350),
    ("2024-04-17", 0.343), ("2024-04-21", 0.340), ("2024-04-26", 0.337), ("2024-04-29", 0.345),
    ("2024-05-01", 0.360), ("2024-05-04", 0.358), ("2024-05-08", 0.353), ("2024-05-10", 0.356),
    ("2024-05-11", 0.272), ("2024-05-13", 0.330), ("2024-05-25", 0.333), ("2024-06-08", 0.335),
    ("2024-06-09", 0.245), ("2024-06-10", 0.353), ("2024-06-14", 0.360), ("2024-06-19", 0.373),
    ("2024-06-21", 0.377), ("2024-06-23", 0.445), ("2024-06-25", 0.398), ("2024-07-01", 0.394),
    ("2024-07-07", 0.390), ("2024-07-12", 0.377), ("2024-07-16", 0.350), ("2024-07-19", 0.310),
    ("2024-07-23", 0.280), ("2024-07-30", 0.211), ("2024-08-07", 0.198), ("2024-08-14", 0.192),
    ("2024-08-17", 0.188), ("2024-08-19", 0.299), ("2024-08-23", 0.255), ("2024-08-29", 0.228),
    ("2024-09-06", 0.211), ("2024-09-08", 0.363), ("2024-09-10", 0.340), ("2024-09-14", 0.279),
    ("2024-09-18", 0.343), ("2024-09-20", 0.320), ("2024-09-23", 0.374), ("2024-09-26", 0.330),
    ("2024-09-30", 0.316), ("2024-10-03", 0.377), ("2024-10-05", 0.357), ("2024-10-07", 0.410),
    ("2024-10-10", 0.384), ("2024-10-13", 0.372), ("2024-10-15", 0.188), ("2024-10-17", 0.300),
    ("2024-10-19", 0.431), ("2024-10-21", 0.355), ("2024-10-24", 0.395), ("2024-10-26", 0.458),
    ("2024-10-27", 0.500), ("2024-10-28", 0.440), ("2024-12-01", None),
    ("2025-01-17", 0.167), ("2025-01-19", 0.194), ("2025-01-20", 0.245), ("2025-01-22", 0.228),
    ("2025-01-24", 0.220), ("2025-01-25", 0.245), ("2025-01-26", 0.530), ("2025-01-30", 0.532),
    ("2025-02-02", 0.532), ("2025-02-04", 0.400), ("2025-02-06", 0.245), ("2025-02-07", 0.350),
    ("2025-02-08", 0.515), ("2025-02-11", 0.529), ("2025-02-14", 0.532), ("2025-02-15", 0.480),
    ("2025-02-16", 0.350), ("2025-02-19", 0.245), ("2025-02-24", 0.231), ("2025-03-02", 0.225),
    ("2025-03-04", 0.221), ("2025-03-07", 0.260), ("2025-03-09", 0.313), ("2025-03-11", 0.450),
    ("2025-03-12", 0.480), ("2025-03-13", 0.380), ("2025-03-14", 0.490), ("2025-03-17", 0.350),
    ("2025-03-19", 0.296), ("2025-03-21", 0.400), ("2025-03-23", 0.532), ("2025-03-26", 0.520),
    ("2025-03-28", 0.414), ("2025-03-31", 0.350), ("2025-04-03", 0.330), ("2025-04-07", 0.306),
    ("2025-04-11", 0.283), ("2025-04-13", 0.350), ("2025-04-15", 0.500), ("2025-04-17", 0.535),
    ("2025-04-20", 0.535), ("2025-04-22", 0.400), ("2025-04-23", 0.343), ("2025-05-02", 0.336),
    ("2025-05-13", 0.338), ("2025-05-20", 0.333), ("2025-05-29", 0.326), ("2025-06-02", 0.310),
    ("2025-06-05", 0.279), ("2025-06-07", 0.230), ("2025-06-09", 0.188), ("2025-06-14", 0.140),
    ("2025-06-19", 0.120), ("2025-06-23", 0.110), ("2025-06-30", 0.100), ("2025-07-06", 0.090),
    ("2025-07-12", 0.087), ("2025-07-20", 0.088), ("2025-07-24", 0.088), ("2025-07-26", 0.113),
    ("2025-08-02", 0.105), ("2025-08-09", 0.097), ("2025-08-15", 0.092), ("2025-08-20", 0.088),
    ("2025-08-25", 0.088), ("2025-08-27", 0.255), ("2025-08-30", 0.240), ("2025-09-01", 0.290),
    ("2025-09-04", 0.280), ("2025-09-09", 0.255), ("2025-09-14", 0.226), ("2025-09-18", 0.205),
    ("2025-09-20", 0.190), ("2025-09-22", 0.343), ("2025-09-25", 0.320), ("2025-09-29", 0.290),
]

series_names = [
    "Decagon GC-T 10cm", "Decagon GC-T 20cm", "Decagon GC-T 30cm",
    "Decagon GC-NT 10cm", "Decagon GC-NT 20cm",
    "CR6 SOTT 40cm", "CR6 GT-NT 40cm", "CR6 GT-T 40cm",
    "CR6 SOTT2 40cm", "CR6 CT-NT 40cm", "CR6 CT-T 40cm",
]
series_data = [gct_10, gct_20, gct_30, gcnt_10, gcnt_20, sott, gt_nt, gt_t, sott2, ct_nt, ct_t]
series_colors = ["pink", "purple", "magenta", "orange", "brown",
                 "lime", "green", "black", "red", "cyan", "blue"]
series_dashed = [False] * 5 + [True] * 6

x_tick_dates = ["2023-07-01", "2023-10-01", "2024-01-01", "2024-04-01", "2024-07-01",
                "2024-10-01", "2025-01-01", "2025-04-01", "2025-07-01", "2025-10-01"]
x_tick_labels = ["2023-07", "2023-10", "2024-01", "2024-04", "2024-07",
                 "2024-10", "2025-01", "2025-04", "2025-07", "2025-10"]
y_tick_vals = [0.1, 0.2, 0.3, 0.4, 0.5]
y_tick_labels = ["0.1", "0.2", "0.3", "0.4", "0.5"]

# ---------------- figure ----------------
fig = go.Figure()
for name, data, color, dashed in zip(series_names, series_data, series_colors, series_dashed):
    xs = [d for d, v in data]
    ys = [v for d, v in data]
    fig.add_trace(go.Scatter(
        x=xs, y=ys, mode="lines", name=name, legendgroup=name,
        connectgaps=False,
        line=dict(color=color, width=2, dash="6px,3px" if dashed else "solid"),
    ))

FONT = "DejaVu Sans, Arial, sans-serif"
fig.update_layout(
    width=1352, height=545,
    margin=dict(l=85, r=10, t=10, b=28),
    plot_bgcolor="white", paper_bgcolor="white",
    font=dict(family=FONT, size=13, color="black"),
    showlegend=True,
    legend=dict(
        x=0.006, y=0.988, xanchor="left", yanchor="top",
        bgcolor="rgba(255,255,255,0.8)", bordercolor="#cccccc", borderwidth=1,
        font=dict(family=FONT, size=14, color="black"),
        traceorder="grouped", tracegroupgap=1.5, itemwidth=41,
    ),
    xaxis=dict(
        type="date", range=["2023-06-28", "2025-10-26"],
        tickmode="array", tickvals=x_tick_dates, ticktext=x_tick_labels,
        showgrid=False, zeroline=False, showline=True, linecolor="black", linewidth=1,
        mirror=True, ticks="outside", ticklen=4, tickcolor="black",
        tickfont=dict(family=FONT, size=13, color="black"),
    ),
    yaxis=dict(
        range=[0.0456, 0.559],
        tickmode="array", tickvals=y_tick_vals, ticktext=y_tick_labels,
        showgrid=False, zeroline=False, showline=True, linecolor="black", linewidth=1,
        mirror=True, ticks="outside", ticklen=4, tickcolor="black",
        tickfont=dict(family=FONT, size=13, color="black"),
        title=dict(text="Volumetric Water Content", font=dict(family=FONT, size=19.5, color="black"),
                   standoff=14),
    ),
)

fig.write_html("out.html", config={"displayModeBar": False},
               post_script="document.body.style.margin='0px';")
